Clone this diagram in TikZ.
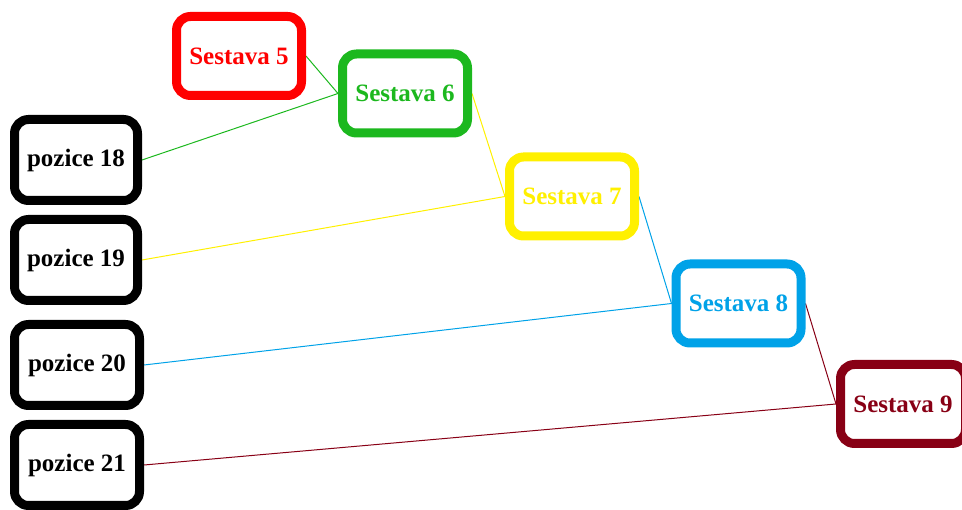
\documentclass[tikz,border=0pt]{standalone}
\usepackage{fontspec}
\setmainfont{Liberation Serif}
\usetikzlibrary{backgrounds}
\definecolor{cRed}{RGB}{255,0,0}
\definecolor{cGreen}{RGB}{28,184,30}
\definecolor{cYellow}{RGB}{255,240,0}
\definecolor{cBlue}{RGB}{0,162,232}
\definecolor{cDark}{RGB}{136,0,21}
\tikzset{
  box/.style={draw, fill=white, line width=9pt, rounded corners=14pt,
    minimum width=125pt, minimum height=79pt, inner sep=0pt,
    font=\fontsize{25}{28}\selectfont\bfseries},
  posbox/.style={box, draw=black, text=black, minimum height=81pt},
  link/.style={line width=1pt}
}
\begin{document}
\begin{tikzpicture}[x=1pt,y=-1pt]
\useasboundingbox (0,0) rectangle (962,510);
% assemblies
\node[box, draw=cRed, text=cRed]       (s5) at (239,56)    {Sestava 5};
\node[box, draw=cGreen, text=cGreen]   (s6) at (405,93.5)  {Sestava 6};
\node[box, draw=cYellow, text=cYellow] (s7) at (572,196.5) {Sestava 7};
\node[box, draw=cBlue, text=cBlue]     (s8) at (738.5,303.5) {Sestava 8};
\node[box, draw=cDark, text=cDark]     (s9) at (903,404)   {Sestava 9};
% positions
\node[posbox, minimum width=123pt] (p18) at (76,160) {pozice 18};
\node[posbox, minimum width=123pt] (p19) at (76,260) {pozice 19};
\node[posbox] (p20) at (77,365) {pozice 20};
\node[posbox] (p21) at (77,465) {pozice 21};
% connectors
\begin{scope}[on background layer]
\draw[link, cGreen]  (s5.east) -- (s6.west) -- (p18.east);
\draw[link, cYellow] (s6.east) -- (s7.west) -- (p19.east);
\draw[link, cBlue]   (s7.east) -- (s8.west) -- (p20.east);
\draw[link, cDark]   (s8.east) -- (s9.west) -- (p21.east);
\end{scope}
\end{tikzpicture}
\end{document}
